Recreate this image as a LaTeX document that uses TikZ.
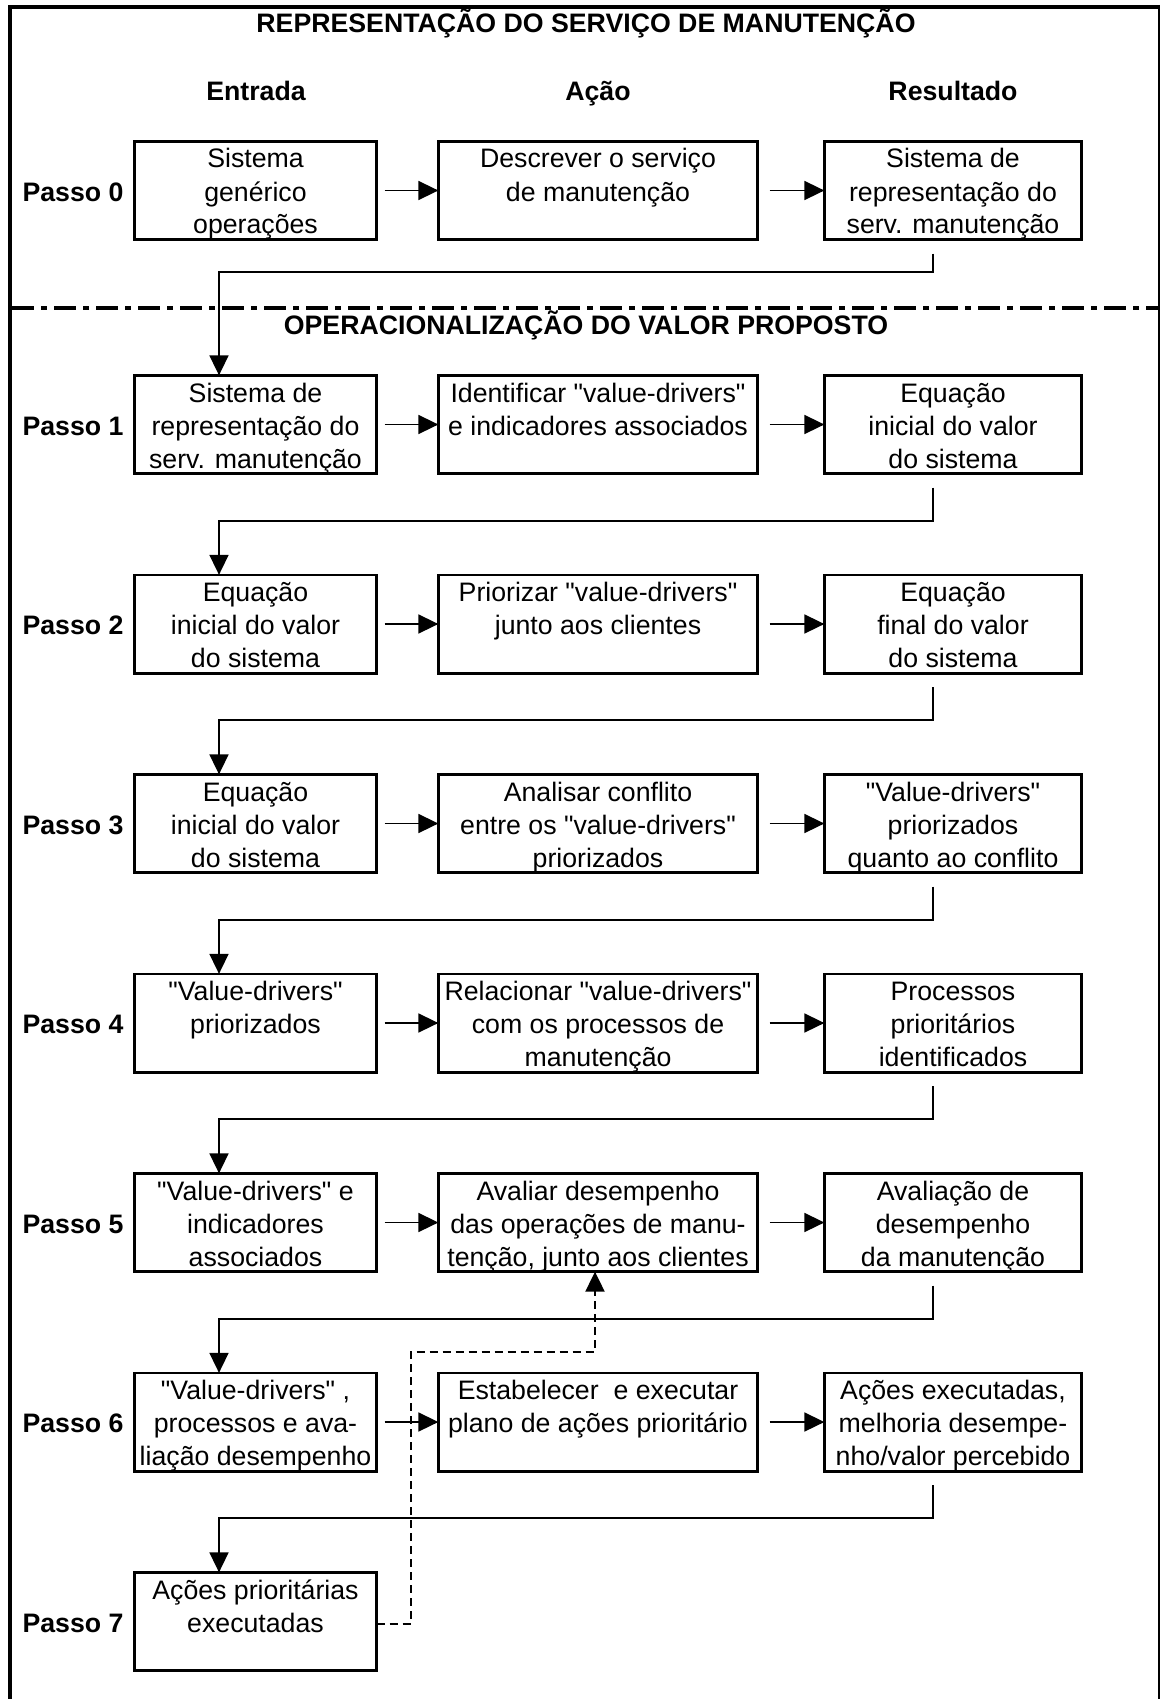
\documentclass[tikz,border=0pt]{standalone}
\usepackage{fontspec}
\setmainfont{Liberation Sans}[Ligatures=TeXOff]
\usetikzlibrary{arrows.meta,calc}

% One row of the method: input box, action box, result box, the two
% arrows between them and the row label.
% #1 step number, #2 top edge of the row, #3 input, #4 action, #5 result
\newcommand{\passorow}[5]{%
  \node[stepbox, minimum width=242.3pt] (e#1) at (255.5,#2+50.5) {};
  \node[stepbox, minimum width=319.3pt] (a#1) at (598,#2+50.5) {};
  \node[stepbox, minimum width=257.3pt] (r#1) at (953,#2+50.5) {};
  \node[txt] (te#1) at (255.5,#2+28) {\parbox[t]{420pt}{\centering #3}};
  \node[txt] (ta#1) at (598,#2+28) {\parbox[t]{420pt}{\centering #4}};
  \node[txt] (tr#1) at (953,#2+28) {\parbox[t]{420pt}{\centering #5}};
  \node[head] (p#1) at (73,#2+61) {Passo #1};
  \draw[link,tip] ($(e#1.east)+(8,0)$) -- (a#1.west);
  \draw[link,tip] ($(a#1.east)+(12,0)$) -- (r#1.west);
}

% Elbow connector from a result box down to the input box of the next row
% #1 result box, #2 next input box, #3 length of the first drop
\newcommand{\passolink}[3]{%
  \draw[link,tip] ($(#1.south)+(-20,14)$) -- ++(0,#3) -| ($(#2.north)+(-36.5,0)$);
}

\begin{document}
\begin{tikzpicture}[x=1pt,y=-1pt,
  every node/.style={inner sep=0pt, outer sep=0pt},
  txt/.style={font=\fontsize{26.7}{33}\selectfont, anchor=base},
  head/.style={font=\fontsize{26.7}{33}\selectfont\bfseries, anchor=base},
  stepbox/.style={draw, rectangle, line width=2.7pt, minimum height=98.3pt},
  link/.style={line width=1.7pt},
  tip/.style={-{Triangle[length=20pt,width=19pt]}},
  feedback/.style={line width=2pt, dash pattern=on 8pt off 5pt}
]
\useasboundingbox (0,0) rectangle (1161,1699);

% outer frame (open at the bottom)
\draw[line width=4pt] (10,1720) -- (10,7) -- (1160,7);
\draw[line width=2.5pt] (1159,5) -- (1159,1720);

% section separator
\draw[line width=3.3pt, dash pattern=on 22pt off 7pt on 6pt off 7pt] (12,308) -- (1158,308);

% headings
\node[head] (title) at (586,33) {REPRESENTAÇÃO DO SERVIÇO DE MANUTENÇÃO};
\node[head] (hin)  at (256,101) {Entrada};
\node[head] (hact) at (598,101) {Ação};
\node[head] (hres) at (953,101) {Resultado};
\node[head] (subtitle) at (586,334) {OPERACIONALIZAÇÃO DO VALOR PROPOSTO};

% steps
\passorow{0}{140}{Sistema\\genérico\\operações}{Descrever o serviço\\de manutenção}{Sistema de\\representação do\\serv. manutenção}
\passorow{1}{374}{Sistema de\\representação do\\serv. manutenção}{Identificar "value-drivers"\\e indicadores associados}{Equação\\inicial do valor\\do sistema}
\passorow{2}{573.5}{Equação\\inicial do valor\\do sistema}{Priorizar "value-drivers"\\junto aos clientes}{Equação\\final do valor\\do sistema}
\passorow{3}{773}{Equação\\inicial do valor\\do sistema}{Analisar conflito\\entre os "value-drivers"\\priorizados}{"Value-drivers"\\priorizados\\quanto ao conflito}
\passorow{4}{972.5}{"Value-drivers"\\priorizados}{Relacionar "value-drivers"\\com os processos de\\manutenção}{Processos\\prioritários\\identificados}
\passorow{5}{1172}{"Value-drivers" e\\indicadores\\associados}{Avaliar desempenho\\das operações de manu-\\tenção, junto aos clientes}{Avaliação de\\desempenho\\da manutenção}
\passorow{6}{1371.5}{"Value-drivers" ,\\processos e ava-\\liação desempenho}{Estabelecer~ e executar\\plano de ações prioritário}{Ações executadas,\\melhoria desempe-\\nho/valor percebido}

% last step: input only
\node[stepbox, minimum width=242.3pt] (e7) at (255.5,1621.5) {};
\node[txt] (te7) at (255.5,1599) {\parbox[t]{420pt}{\centering Ações prioritárias\\executadas}};
\node[head] (p7) at (73,1632) {Passo 7};

% links between steps
\passolink{r0}{e1}{18}
\passolink{r1}{e2}{33}
\passolink{r2}{e3}{33}
\passolink{r3}{e4}{33}
\passolink{r4}{e5}{33}
\passolink{r5}{e6}{33}
\passolink{r6}{e7}{33}

% feedback from the executed actions to the performance evaluation
\draw[feedback,tip] ($(e7.east)+(0,2)$) -- ++(34,0) -- ++(0,-272) -| ($(a5.south)+(-3,0)$);

\end{tikzpicture}
\end{document}
